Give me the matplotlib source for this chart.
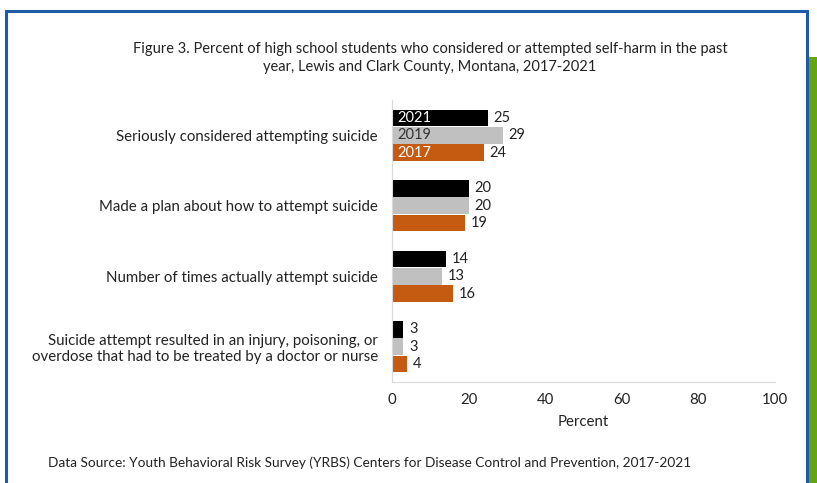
import numpy as np
import matplotlib.pyplot as plt
from matplotlib.patches import Rectangle

categories = [
    "Seriously considered attempting suicide",
    "Made a plan about how to attempt suicide",
    "Number of times actually attempt suicide",
    "Suicide attempt resulted in an injury, poisoning, or\noverdose that had to be treated by a doctor or nurse",
]
years = ["2021", "2019", "2017"]
vals_2021 = [25, 20, 14, 3]
vals_2019 = [29, 20, 13, 3]
vals_2017 = [24, 19, 16, 4]
colors = ["#000000", "#c0c0c0", "#c55a11"]
year_text_colors = ["white", "#333333", "white"]

plt.rcParams['font.family'] = ['Lato', 'DejaVu Sans']

fig = plt.figure(figsize=(8.17, 4.83), dpi=100)

# page frame
fig.patches.append(Rectangle((6/817, -0.05), 801/817, 1.05 - 11/483, transform=fig.transFigure,
                             fill=False, edgecolor="#1d5ba6", linewidth=2.2))
fig.patches.append(Rectangle((809/817, 0), 8/817, 1 - 57/483, transform=fig.transFigure,
                             facecolor="#64a311", edgecolor="none"))

ax = fig.add_axes([392/817, 1 - 382/483, 383/817, 282/483])

y = np.arange(len(categories))
h = 0.245
series = [vals_2021, vals_2019, vals_2017]
for i, vals in enumerate(series):
    pos = y + (i - 1) * h
    bars = ax.barh(pos, vals, height=h * 0.98, color=colors[i])
    for b, v in zip(bars, vals):
        ax.text(v + 1.5, b.get_y() + b.get_height() / 2, str(v), va="center", ha="left",
                fontsize=10.5, color="#222222")
    ax.text(1.5, pos[0], years[i], va="center", ha="left", fontsize=10.5, color=year_text_colors[i])

ax.set_ylim(len(categories) - 0.5, -0.5)
ax.set_xlim(0, 100)
ax.set_yticks(y)
ax.set_yticklabels(categories, fontsize=10.6, color="#222222", ha="right")
ax.set_xticks([0, 20, 40, 60, 80, 100])
ax.tick_params(axis="both", length=0, labelsize=10.8, colors="#222222")
ax.tick_params(axis="x", pad=8)
ax.tick_params(axis="y", pad=10)
ax.set_xlabel("Percent", fontsize=10.8, color="#222222", labelpad=6)
for s in ["top", "right"]:
    ax.spines[s].set_visible(False)
ax.spines["bottom"].set_color("#d9d9d9")
ax.spines["left"].set_color("#d9d9d9")

fig.text(430/817, 1 - 58/483,
         "Figure 3. Percent of high school students who considered or attempted self-harm in the past\n"
         "year, Lewis and Clark County, Montana, 2017-2021",
         ha="center", va="center", fontsize=10.5, color="#222222", linespacing=1.45)
fig.text(48/817, 1 - 463/483,
         "Data Source: Youth Behavioral Risk Survey (YRBS) Centers for Disease Control and Prevention, 2017-2021",
         ha="left", va="center", fontsize=9.8, color="#222222")

fig.savefig("out.png", dpi=100)
